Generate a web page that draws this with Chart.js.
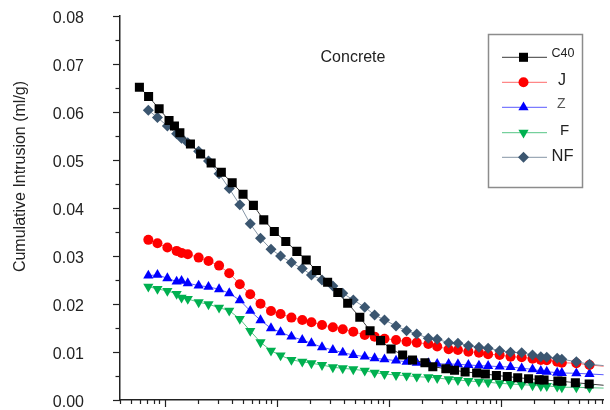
<!DOCTYPE html>
<html>
<head>
<meta charset="utf-8">
<script src="https://cdn.jsdelivr.net/npm/chart.js"></script>
<style>
html,body{margin:0;padding:0;background:#fff;overflow:hidden}
canvas{display:block}
</style>
</head>
<body>
<canvas id="c" width="610" height="410"></canvas>
<script>
// ---------------- data ----------------
const chartLabel = 'Concrete';
const yAxisTitle = 'Cumulative Intrusion (ml/g)';
const seriesNames = ['C40', 'J', 'Z', 'F', 'NF'];

// pore diameter values (log axis); last value lies beyond the cropped right edge
const xC40 = [0.00596, 0.00720, 0.00894, 0.01096, 0.01225, 0.01369, 0.01702, 0.02097, 0.02605, 0.03211,
  0.04013, 0.05017, 0.06209, 0.07682, 0.09544, 0.1208, 0.1516, 0.1838, 0.2265, 0.2854,
  0.3518, 0.4310, 0.5529, 0.6830, 0.8469, 1.052, 1.334, 1.634, 2.109, 2.481,
  3.243, 3.877, 4.818, 6.108, 7.301, 9.166, 11.46, 14.20, 17.76, 22.06,
  24.42, 32.43, 35.18, 46.45, 61.70, 111.8];
const yC40 = [0.06514, 0.06319, 0.06065, 0.05820, 0.05704, 0.05564, 0.05330, 0.05121, 0.04933, 0.04739,
  0.04520, 0.04280, 0.04050, 0.03747, 0.03503, 0.03294, 0.03090, 0.02912, 0.02689, 0.02447,
  0.02230, 0.02008, 0.01716, 0.01436, 0.01228, 0.01054, 0.00929, 0.00825, 0.00768, 0.00685,
  0.00643, 0.00610, 0.00574, 0.00553, 0.00532, 0.00501, 0.00480, 0.00455, 0.00434, 0.00413,
  0.00407, 0.00386, 0.00380, 0.00351, 0.00324, 0.00270];

const xShared = [0.00716, 0.00864, 0.01059, 0.01281, 0.01417, 0.01611, 0.02014, 0.02466, 0.03065, 0.03777,
  0.04694, 0.05818, 0.07185, 0.08909, 0.1085, 0.1356, 0.1695, 0.2046, 0.2543, 0.3178,
  0.3895, 0.4837, 0.6121, 0.7500, 0.9184, 1.1645, 1.4468, 1.7827, 2.261, 2.714,
  3.434, 4.155, 5.151, 6.401, 7.730, 9.799, 12.25, 15.41, 19.26, 22.84,
  25.80, 31.97, 35.18, 47.41, 62.09, 111.8];
const yJ = [0.03330, 0.03261, 0.03169, 0.03100, 0.03058, 0.03031, 0.02960, 0.02891, 0.02793, 0.02635,
  0.02405, 0.02196, 0.02000, 0.01848, 0.01785, 0.01708, 0.01660, 0.01612, 0.01555, 0.01507,
  0.01466, 0.01415, 0.01347, 0.01311, 0.01269, 0.01242, 0.01207, 0.01186, 0.01159, 0.01106,
  0.01048, 0.01033, 0.00998, 0.00977, 0.00944, 0.00929, 0.00894, 0.00881, 0.00852, 0.00825,
  0.00818, 0.00789, 0.00768, 0.00756, 0.00720, 0.00668];
const yZ = [0.02585, 0.02599, 0.02530, 0.02459, 0.02474, 0.02426, 0.02376, 0.02349, 0.02301, 0.02217,
  0.02071, 0.01848, 0.01653, 0.01486, 0.01403, 0.01311, 0.01242, 0.01173, 0.01090, 0.01033,
  0.00977, 0.00929, 0.00894, 0.00860, 0.00839, 0.00810, 0.00789, 0.00768, 0.00756, 0.00745,
  0.00741, 0.00735, 0.00720, 0.00706, 0.00699, 0.00685, 0.00678, 0.00651, 0.00630, 0.00595,
  0.00580, 0.00559, 0.00553, 0.00547, 0.00532, 0.00501];
const yF = [0.02355, 0.02307, 0.02265, 0.02203, 0.02125, 0.02098, 0.02029, 0.01987, 0.01916, 0.01854,
  0.01681, 0.01430, 0.01194, 0.01019, 0.00919, 0.00825, 0.00789, 0.00756, 0.00720, 0.00672,
  0.00651, 0.00630, 0.00601, 0.00559, 0.00532, 0.00511, 0.00497, 0.00476, 0.00463, 0.00449,
  0.00422, 0.00407, 0.00386, 0.00372, 0.00359, 0.00338, 0.00324, 0.00309, 0.00296, 0.00282,
  0.00282, 0.00267, 0.00255, 0.00255, 0.00246, 0.00230];
const yNF = [0.06033, 0.05883, 0.05704, 0.05543, 0.05449, 0.05355, 0.05177, 0.04973, 0.04708, 0.04401,
  0.04061, 0.03664, 0.03365, 0.03136, 0.02996, 0.02856, 0.02731, 0.02599, 0.02495, 0.02370,
  0.02217, 0.02077, 0.01925, 0.01764, 0.01660, 0.01534, 0.01436, 0.01367, 0.01278, 0.01257,
  0.01186, 0.01173, 0.01123, 0.01090, 0.01069, 0.01019, 0.00985, 0.00977, 0.00929, 0.00894,
  0.00881, 0.00860, 0.00839, 0.00789, 0.00735, 0.00678];

// axis ranges / ticks
const xMin = 0.004, xMax = 83;
const yMin = 0, yMax = 0.08, yStep = 0.01, yMinorStep = 0.005;
const xDecades = [-3, -2, -1, 0, 1, 2];

// ---------------- styles ----------------
Chart.defaults.font.family = "'Liberation Sans', Arial, Helvetica, sans-serif";
Chart.defaults.color = '#222';
const axisColor = '#222';

const styles = {
  C40: {point: '#000000', line: '#3a3a3a', style: 'rect', radius: 6.4, rotation: 0, order: 0},
  J:   {point: '#ff0000', line: '#ff6a6a', style: 'circle', radius: 5, rotation: 0, order: 2},
  Z:   {point: '#0000ff', line: '#5a5aff', style: 'triangle', radius: 5.9, rotation: 0, order: 3},
  F:   {point: '#00b050', line: '#55c585', style: 'triangle', radius: 5.9, rotation: 180, order: 4},
  NF:  {point: '#3b5670', line: '#8595a5', style: 'rectRot', radius: 5.5, rotation: 0, order: 1}
};

function makeDataset(name, xs, ys) {
  const s = styles[name];
  return {
    label: name,
    data: xs.map((x, i) => ({x: x, y: ys[i]})),
    borderColor: s.line,
    backgroundColor: s.point,
    borderWidth: 1,
    pointStyle: s.style,
    pointRadius: s.radius,
    pointRotation: s.rotation,
    pointBackgroundColor: s.point,
    pointBorderColor: s.point,
    pointBorderWidth: 0,
    pointHoverRadius: s.radius,
    tension: 0,
    order: s.order
  };
}

const datasets = [
  makeDataset('C40', xC40, yC40),
  makeDataset('J', xShared, yJ),
  makeDataset('Z', xShared, yZ),
  makeDataset('F', xShared, yF),
  makeDataset('NF', xShared, yNF)
];

// tick marks drawn from the scales
const tickPlugin = {
  id: 'tickMarks',
  afterDraw(chart) {
    const ctx = chart.ctx, xs = chart.scales.x, ys = chart.scales.y, a = chart.chartArea;
    ctx.save();
    ctx.strokeStyle = axisColor;
    ctx.lineWidth = 1.2;
    const nY = Math.round((yMax - yMin) / yMinorStep);
    for (let i = 0; i <= nY; i++) {
      const v = yMin + i * yMinorStep;
      const major = (i % Math.round(yStep / yMinorStep)) === 0;
      const py = Math.round(ys.getPixelForValue(v)) + 0.5;
      ctx.beginPath();
      ctx.moveTo(a.left - (major ? 7 : 4.5), py);
      ctx.lineTo(a.left, py);
      ctx.stroke();
    }
    for (const d of xDecades) {
      for (let k = 1; k <= 9; k++) {
        const v = k * Math.pow(10, d);
        if (v < xMin * 0.999 || v > xMax) continue;
        const px = Math.round(xs.getPixelForValue(v)) + 0.5;
        ctx.beginPath();
        ctx.moveTo(px, a.bottom);
        ctx.lineTo(px, a.bottom + (k === 1 ? 7.5 : 4.5));
        ctx.stroke();
      }
    }
    ctx.restore();
  }
};

// texts: y-axis title and in-plot label
const textPlugin = {
  id: 'texts',
  afterDraw(chart) {
    const ctx = chart.ctx;
    ctx.save();
    ctx.fillStyle = '#222';
    ctx.font = "16px 'Liberation Sans', Arial, sans-serif";
    ctx.textAlign = 'center';
    ctx.textBaseline = 'middle';
    ctx.fillText(chartLabel, 353, 58);
    ctx.translate(21, 176.5);
    ctx.rotate(-Math.PI / 2);
    ctx.fillText(yAxisTitle, 0, 0);
    ctx.restore();
  }
};

// boxed legend
const legendLayout = {
  box: [488, 34, 94, 153],
  rowY: [57.3, 82.3, 107.3, 132.7, 157.3],
  lineX: [502, 547],
  markerX: 523.5,
  textX: [551.5, 558, 557, 560, 551.5],
  textDy: [-3.5, -1.5, -3, -1.5, -1],
  fontSize: [12.5, 16, 14, 15, 16.5],
  textColor: ['#222', '#222', '#555', '#222', '#222']
};
const legendPlugin = {
  id: 'boxLegend',
  afterDraw(chart) {
    const ctx = chart.ctx, L = legendLayout;
    ctx.save();
    ctx.strokeStyle = '#8c8c8c';
    ctx.lineWidth = 1.5;
    ctx.strokeRect(L.box[0] + 0.5, L.box[1] + 0.5, L.box[2], L.box[3]);
    seriesNames.forEach((name, i) => {
      const s = styles[name];
      const y = L.rowY[i];
      ctx.strokeStyle = s.line;
      ctx.lineWidth = 1;
      ctx.beginPath();
      ctx.moveTo(L.lineX[0], y);
      ctx.lineTo(L.lineX[1], y);
      ctx.stroke();
      ctx.fillStyle = s.point;
      ctx.strokeStyle = s.point;
      Chart.helpers.drawPoint(ctx, {pointStyle: s.style, rotation: s.rotation, radius: s.radius, borderWidth: 0}, L.markerX, y);
      ctx.fillStyle = L.textColor[i];
      ctx.font = L.fontSize[i] + "px 'Liberation Sans', Arial, sans-serif";
      ctx.textAlign = 'left';
      ctx.textBaseline = 'middle';
      ctx.fillText(name, L.textX[i], y + L.textDy[i]);
    });
    ctx.restore();
  }
};

new Chart(document.getElementById('c'), {
  type: 'line',
  data: {datasets: datasets},
  options: {
    responsive: false,
    devicePixelRatio: 1,
    animation: false,
    layout: {padding: {top: 16, right: 0, bottom: 10.5, left: 0}},
    plugins: {legend: {display: false}, tooltip: {enabled: false}, title: {display: false}},
    scales: {
      x: {
        type: 'logarithmic',
        min: xMin,
        max: xMax,
        ticks: {display: false},
        grid: {display: false, drawTicks: false},
        border: {display: true, color: axisColor, width: 1.5}
      },
      y: {
        type: 'linear',
        min: yMin,
        max: yMax,
        afterFit(scale) { scale.width = 120; },
        ticks: {
          stepSize: yStep,
          padding: 0,
          labelOffset: 3,
          color: '#222',
          font: {size: 16},
          callback: (v) => Number(v).toFixed(2)
        },
        grid: {display: true, drawOnChartArea: false, drawTicks: true, tickLength: 36, tickColor: 'rgba(0,0,0,0)'},
        border: {display: true, color: axisColor, width: 1.5}
      }
    }
  },
  plugins: [tickPlugin, textPlugin, legendPlugin]
});
</script>
</body>
</html>
